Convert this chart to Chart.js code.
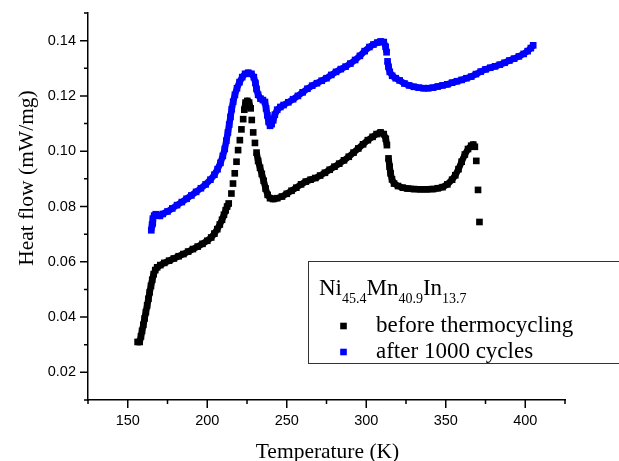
<!DOCTYPE html>
<html lang="en">
<head>
<meta charset="UTF-8">
<title>Heat flow</title>
<script src="https://cdn.jsdelivr.net/npm/chart.js"></script>
<style>
  html, body { margin: 0; padding: 0; background: #fff; }
  canvas { display: block; }
</style>
</head>
<body>
<canvas id="c" width="619" height="461"></canvas>
<script>
// before thermocycling (black)
const tempBefore = [156.2, 157.5, 158.3, 159.0, 159.8, 160.6, 161.4, 162.2, 163.0, 163.8,
  164.6, 165.4, 166.3, 167.3, 168.5, 170.5, 173, 176, 179, 182,
  185, 188, 191, 194, 197, 200, 202.5, 204.5, 206.3, 207.9,
  209.3, 210.5, 211.6, 212.5, 213.5,
  215.2, 216.2, 217.3, 218.4, 219.4, 220.5, 221.5, 222.6,
  223.3, 224.1, 225.2, 226.3, 227.3,
  228.0, 228.9, 230.0,
  231.0, 232.0, 233.2, 234.3, 235.5, 236.7, 238.0, 239.5, 241.5, 244,
  247, 250, 253, 256, 259, 262, 265, 268, 271, 274,
  277, 280, 283, 286, 289, 292, 295, 298, 301, 304,
  306.5, 309, 311, 312.3, 313.0,
  314.0,
  314.7, 315.3, 316.2, 317.5, 320, 323, 326, 330, 334, 338,
  342, 345, 348, 351, 354, 356, 358, 360, 362, 364,
  366, 367.3, 368.3,
  369.2, 370.3, 371.2];
const flowBefore = [0.0310, 0.0310, 0.0330, 0.0350, 0.0372, 0.0395, 0.0418, 0.0442, 0.0466, 0.0490,
  0.0513, 0.0535, 0.0555, 0.0570, 0.0580, 0.0588, 0.0596, 0.0604, 0.0612, 0.0620,
  0.0628, 0.0637, 0.0646, 0.0655, 0.0665, 0.0676, 0.0688, 0.0702, 0.0718, 0.0735,
  0.0752, 0.0770, 0.0786, 0.0800, 0.0811,
  0.0847, 0.0883, 0.0920, 0.0962, 0.1004, 0.1040, 0.1079, 0.1116,
  0.1150, 0.1176, 0.1182, 0.1176, 0.1155,
  0.1113, 0.1068, 0.1030,
  0.0995, 0.0965, 0.0940, 0.0918, 0.0893, 0.0865, 0.0842, 0.0830, 0.0827, 0.0830,
  0.0836, 0.0846, 0.0857, 0.0868, 0.0880, 0.0890, 0.0897, 0.0903, 0.0912, 0.0922,
  0.0933, 0.0944, 0.0955, 0.0967, 0.0980, 0.0995, 0.1010, 0.1025, 0.1040, 0.1052,
  0.1062, 0.1068, 0.1062, 0.1045, 0.1022,
  0.0974,
  0.0944, 0.0920, 0.0898, 0.0883, 0.0874, 0.0868, 0.0865, 0.0863, 0.0862, 0.0862,
  0.0863, 0.0866, 0.0870, 0.0880, 0.0897, 0.0913, 0.0935, 0.0962, 0.0988, 0.1008,
  0.1020, 0.1024, 0.1016,
  0.0965, 0.0860, 0.0744];

// after 1000 cycles (blue)
const tempAfter = [164.8, 165.3, 165.8, 166.6, 167.6, 168.8, 170.2, 172, 175, 178,
  181, 184, 187, 190, 193, 196, 199, 202, 204.5, 206.5,
  208.3, 209.8, 211, 212, 213, 213.8, 214.6, 215.4, 216.3, 217.4,
  218.7, 220.3, 222, 223.8, 225.8, 227.8, 229.3, 230.3, 231, 232,
  233.5, 235, 236.3, 237, 237.8, 238.6, 239.5, 240.5, 241.5, 242.5,
  244, 246, 248, 251, 254, 257, 260, 263, 266, 269,
  272, 275, 278, 281, 284, 287, 290, 293, 296, 299,
  302, 304.5, 307, 309, 311, 312.2, 312.8, 313.4, 314, 314.8,
  316.3, 318.5, 321, 324, 327, 330, 333, 336, 339, 342,
  345, 348, 351, 354, 357, 360, 363, 366, 369, 372,
  375, 378, 381, 384, 387, 390, 393, 396, 399, 401.5,
  403.5, 405];
const flowAfter = [0.0714, 0.0735, 0.0756, 0.0767, 0.0772, 0.0768, 0.0766, 0.0773, 0.0782, 0.0793,
  0.0805, 0.0816, 0.0828, 0.0840, 0.0853, 0.0866, 0.0880, 0.0897, 0.0915, 0.0935,
  0.0958, 0.0983, 0.1008, 0.1038, 0.1068, 0.1096, 0.1124, 0.1152, 0.1179, 0.1204,
  0.1228, 0.1250, 0.1268, 0.1280, 0.1284, 0.1280, 0.1268, 0.1247, 0.1225, 0.1204,
  0.1190, 0.1185, 0.1178, 0.1155, 0.1130, 0.1106, 0.1092, 0.1098, 0.1112, 0.1132,
  0.1150, 0.1160, 0.1167, 0.1177, 0.1188, 0.1200, 0.1213, 0.1226, 0.1237, 0.1246,
  0.1255, 0.1264, 0.1276, 0.1287, 0.1297, 0.1306, 0.1317, 0.1330, 0.1345, 0.1362,
  0.1377, 0.1386, 0.1393, 0.1397, 0.1395, 0.1378, 0.1358, 0.1325, 0.1305, 0.1287,
  0.1273, 0.1264, 0.1256, 0.1245, 0.1238, 0.1233, 0.1230, 0.1228, 0.1228, 0.1230,
  0.1234, 0.1238, 0.1242, 0.1248, 0.1253, 0.1258, 0.1264, 0.1270, 0.1279, 0.1288,
  0.1296, 0.1302, 0.1307, 0.1313, 0.1320, 0.1328, 0.1335, 0.1343, 0.1352, 0.1362,
  0.1373, 0.1383];

const seriesNames = ['before thermocycling', 'after 1000 cycles'];
const seriesColors = ['#000000', '#0000ff'];
const xTicks = { min: 125, max: 425, step: 25, labelEvery: 50 };
const yTicks = { min: 0.01, max: 0.15, step: 0.01 };

const SANS = '"Liberation Sans", Arial, sans-serif';
const SERIF = '"Liberation Serif", "Times New Roman", serif';

function pts(xs, ys) {
  return xs.map((x, i) => ({ x: x, y: ys[i] }));
}

// consecutive points further apart than this (px) are left unjoined,
// the instrument's sparse steps show as separate squares
function joinColor(color) {
  return c => {
    const dx = c.p1.x - c.p0.x, dy = c.p1.y - c.p0.y;
    return Math.hypot(dx, dy) > 9 ? 'rgba(0,0,0,0)' : color;
  };
}

function dataset(label, xs, ys, color) {
  return {
    label: label,
    data: pts(xs, ys),
    showLine: true,
    borderColor: color,
    borderWidth: 6.5,
    borderJoinStyle: 'round',
    segment: { borderColor: joinColor(color) },
    pointStyle: 'rect',
    pointRadius: 4.7,
    pointBorderWidth: 0,
    pointBackgroundColor: color,
    tension: 0
  };
}

const decor = {
  id: 'decor',
  afterDraw(chart) {
    const { ctx, chartArea: a, scales: { x, y } } = chart;
    ctx.save();

    // tick marks, major and minor
    ctx.strokeStyle = '#000';
    ctx.lineWidth = 1.5;
    ctx.beginPath();
    x.ticks.forEach(t => {
      const px = x.getPixelForValue(t.value);
      const len = t.value % xTicks.labelEvery === 0 ? 8 : 4;
      ctx.moveTo(px, a.bottom);
      ctx.lineTo(px, a.bottom + len);
    });
    y.ticks.forEach(t => {
      const py = y.getPixelForValue(t.value);
      const len = Math.round(t.value * 100) % 2 === 0 ? 8 : 4;
      ctx.moveTo(a.left, py);
      ctx.lineTo(a.left - len, py);
    });
    ctx.stroke();

    // axis titles
    ctx.fillStyle = '#000';
    ctx.font = '21.5px ' + SERIF;
    ctx.textAlign = 'center';
    ctx.textBaseline = 'alphabetic';
    ctx.fillText('Temperature (K)', 327.5, 458);
    ctx.save();
    ctx.translate(32.5, 178);
    ctx.rotate(-Math.PI / 2);
    ctx.fillText('Heat flow (mW/mg)', 0, 0);
    ctx.restore();

    // legend box
    ctx.strokeStyle = '#333';
    ctx.lineWidth = 1;
    ctx.strokeRect(308.5, 261.5, 330, 102);

    // formula with subscripts
    ctx.textAlign = 'left';
    let cx = 319;
    const parts = [['Ni', '45.4'], ['Mn', '40.9'], ['In', '13.7']];
    parts.forEach(([el, sub]) => {
      ctx.font = '23px ' + SERIF;
      ctx.fillText(el, cx, 295);
      cx += ctx.measureText(el).width;
      ctx.font = '14px ' + SERIF;
      ctx.fillText(sub, cx, 303);
      cx += ctx.measureText(sub).width;
    });

    ctx.font = '23px ' + SERIF;
    const rows = [326, 352];
    seriesNames.forEach((name, i) => {
      ctx.fillStyle = seriesColors[i];
      ctx.fillRect(340.2, rows[i] - 3.3, 6.6, 6.6);
      ctx.fillStyle = '#000';
      ctx.fillText(name, 376, rows[i] + 6);
    });

    ctx.restore();
  }
};

const tickFont = { family: SANS, size: 14.5 };

new Chart(document.getElementById('c'), {
  type: 'scatter',
  data: {
    datasets: [
      dataset(seriesNames[0], tempBefore, flowBefore, seriesColors[0]),
      dataset(seriesNames[1], tempAfter, flowAfter, seriesColors[1])
    ]
  },
  options: {
    responsive: false,
    animation: false,
    events: [],
    layout: { padding: { top: 13, right: 54, left: 0, bottom: 0 } },
    plugins: { legend: { display: false }, tooltip: { enabled: false } },
    scales: {
      x: {
        type: 'linear',
        min: xTicks.min,
        max: xTicks.max,
        afterFit: s => { s.height = 61; s.paddingLeft = 0; s.paddingRight = 0; },
        grid: { drawOnChartArea: false, drawTicks: false },
        border: { display: true, color: '#000', width: 1.5 },
        ticks: {
          stepSize: xTicks.step,
          autoSkip: false,
          maxRotation: 0,
          padding: 12,
          color: '#000',
          font: tickFont,
          callback: v => (v % xTicks.labelEvery === 0 ? String(v) : '')
        }
      },
      y: {
        type: 'linear',
        min: yTicks.min,
        max: yTicks.max,
        afterFit: s => { s.width = 88; s.paddingTop = 0; s.paddingBottom = 0; },
        grid: { drawOnChartArea: false, drawTicks: false },
        border: { display: true, color: '#000', width: 1.5 },
        ticks: {
          stepSize: yTicks.step,
          autoSkip: false,
          padding: 12,
          color: '#000',
          font: tickFont,
          callback: v => (Math.round(v * 100) % 2 === 0 ? v.toFixed(2) : '')
        }
      }
    }
  },
  plugins: [decor]
});
</script>
</body>
</html>
